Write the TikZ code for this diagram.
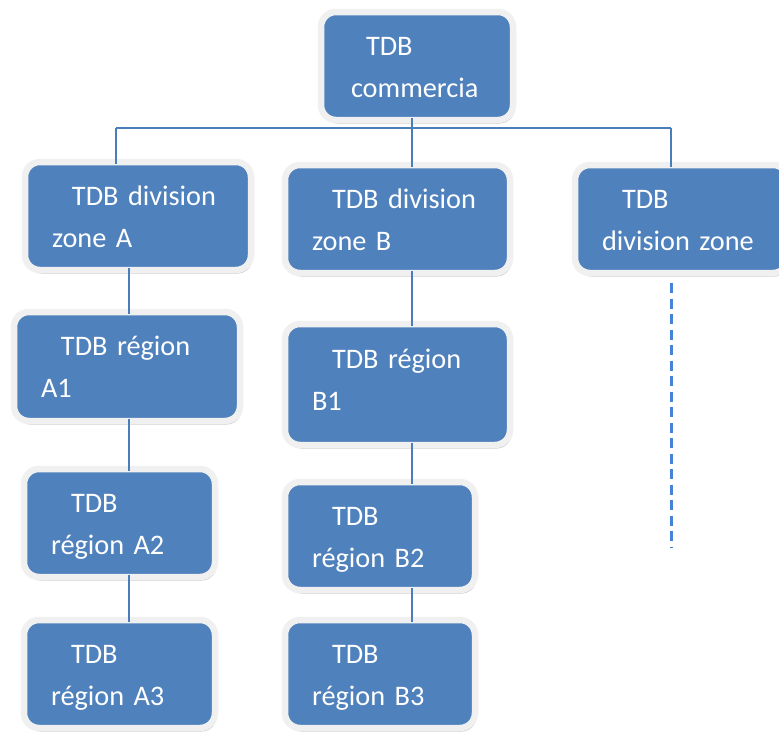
\documentclass[tikz,border=0pt]{standalone}
\usepackage{fontspec}
\setmainfont{Carlito}
\usepackage{tikz}
\usetikzlibrary{shadows}

\definecolor{boxblue}{RGB}{79,129,189}
\definecolor{linkblue}{RGB}{74,126,187}
\definecolor{dashblue}{RGB}{70,130,215}
\definecolor{rimgray}{RGB}{240,240,240}

\tikzset{
    tdb/.style={rectangle, rounded corners=15pt, fill=boxblue, draw=rimgray, line width=6.5pt,
        drop shadow={shadow xshift=1.5pt, shadow yshift=-3.5pt, opacity=0.4, fill=black!55},
        text=white, font=\fontsize{28.3}{42}\selectfont, align=left,
        inner xsep=27pt, inner ysep=0pt, outer sep=-2pt,
        text height=20pt, text depth=42pt, minimum height=108pt},
    link/.style={draw=linkblue, line width=1.6pt},
    dashlink/.style={draw=dashblue, line width=3pt, dash pattern=on 10pt off 5.5pt}
}

\begin{document}
\begin{tikzpicture}[x=1pt, y=-1pt]
            \clip (0,0) rectangle (779,736);
            \fill[white] (0,0) rectangle (779,736);

            \coordinate (bus) at (0,128);
            \coordinate (colL) at (116,0);
            \coordinate (colA) at (129,0);
            \coordinate (colB) at (412,0);
            \coordinate (colZ) at (671,0);

            \node[tdb, text width=132pt, inner xsep=30pt] (tdbcom) at (417,66) {\hspace*{15pt}TDB\\commercia};

            \node[tdb, text width=172pt] (divza) at (138,216) {\hspace*{20pt}TDB division\\zone A};
            \node[tdb, text width=171pt] (divzb) at (397.5,219) {\hspace*{20pt}TDB division\\zone B};
            \node[tdb, text width=159pt] (divz) at (681.5,219) {\hspace*{20pt}TDB\\division zone};

            \node[tdb, text width=172pt, minimum height=109pt] (rega1) at (127,366.5) {\hspace*{20pt}TDB région\\A1};
            \node[tdb, text width=137pt] (rega2) at (119.5,523) {\hspace*{20pt}TDB\\région A2};
            \node[tdb, text width=137pt] (rega3) at (119.5,674) {\hspace*{20pt}TDB\\région A3};

            \node[tdb, text width=171pt, minimum height=121pt, text depth=53pt] (regb1) at (397.5,384.5) {\hspace*{20pt}TDB région\\B1};
            \node[tdb, text width=136pt] (regb2) at (380,536) {\hspace*{20pt}TDB\\région B2};
            \node[tdb, text width=136pt] (regb3) at (380,674) {\hspace*{20pt}TDB\\région B3};

            \draw[link] (tdbcom.south -| colB) -- (bus -| colB);
            \draw[link] (bus -| colL) -- (bus -| colZ);
            \draw[link] (bus -| colL) -- (divza.north -| colL);
            \draw[link] (bus -| colB) -- (divzb.north -| colB);
            \draw[link] (bus -| colZ) -- (divz.north -| colZ);

            \draw[link] (divza.south -| colA) -- (rega1.north -| colA);
            \draw[link] (rega1.south -| colA) -- (rega2.north -| colA);
            \draw[link] (rega2.south -| colA) -- (rega3.north -| colA);

            \draw[link] (divzb.south -| colB) -- (regb1.north -| colB);
            \draw[link] (regb1.south -| colB) -- (regb2.north -| colB);
            \draw[link] (regb2.south -| colB) -- (regb3.north -| colB);

            \coordinate (zoneend) at (671,547);
            \draw[dashlink] ([yshift=-12pt]divz.south -| colZ) -- (zoneend);
\end{tikzpicture}
\end{document}
